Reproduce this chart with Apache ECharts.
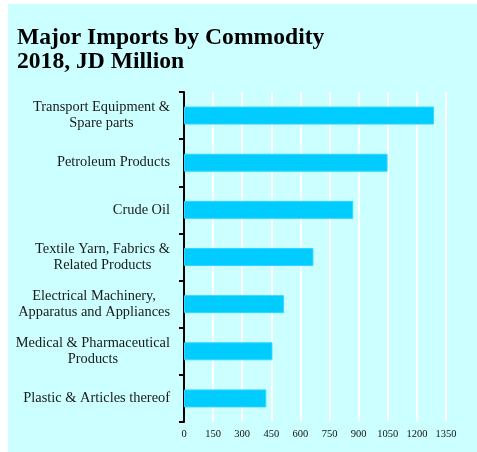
<!DOCTYPE html>
<html>
<head>
<meta charset="utf-8">
<script src="https://cdn.jsdelivr.net/npm/echarts@6/dist/echarts.min.js"></script>
<style>
  html, body { margin: 0; padding: 0; background: #ffffff; }
  #chart { position: absolute; left: 8px; top: 4px; width: 469px; height: 448px; background: #ccffff; }
</style>
</head>
<body>
<div id="chart"></div>
<script>
// Commodity groups, listed bottom-to-top as the category axis draws them
const categories = [
  'Plastic & Articles thereof',
  'Medical & Pharmaceutical\nProducts',
  'Electrical Machinery,\nApparatus and Appliances',
  'Textile Yarn, Fabrics &\nRelated Products',
  'Crude Oil',
  'Petroleum Products',
  'Transport Equipment &\nSpare parts'
];
// Import value, JD million
const imports = [424, 456, 515, 667, 872, 1049, 1288];
// Value axis ticks
const axisMin = 0;
const axisMax = 1350;
const axisStep = 150;

const chart = echarts.init(document.getElementById('chart'), null, { renderer: 'canvas' });

const serif = '"Liberation Serif", "Times New Roman", serif';

chart.setOption({
  backgroundColor: '#ccffff',
  animation: false,
  title: {
    text: 'Major Imports by Commodity\n2018, JD Million',
    left: 9,
    top: 22,
    padding: 0,
    textStyle: {
      fontFamily: serif,
      fontWeight: 'bold',
      fontSize: 23.6,
      lineHeight: 24,
      color: '#000000'
    }
  },
  grid: { left: 176, right: 31, top: 88, bottom: 30, containLabel: false },
  xAxis: {
    type: 'value',
    min: axisMin,
    max: axisMax,
    interval: axisStep,
    axisLine: { show: false },
    axisTick: { show: false },
    splitLine: { show: true, lineStyle: { color: '#ffffff', width: 2 } },
    axisLabel: {
      margin: 7,
      fontFamily: serif,
      fontSize: 10.5,
      color: '#111111',
      formatter: function (v) { return String(v); }
    }
  },
  yAxis: {
    type: 'category',
    data: categories,
    axisLine: { show: true, lineStyle: { color: '#000000', width: 2 } },
    axisTick: { show: true, inside: false, length: 5, lineStyle: { color: '#000000', width: 2 } },
    splitLine: { show: false },
    axisLabel: {
      margin: 14,
      formatter: function (v) {
        return v.split('\n').map(function (l) { return '{c|' + l + '}'; }).join('\n');
      },
      rich: {
        c: {
          align: 'center',
          fontFamily: serif,
          fontSize: 14.4,
          lineHeight: 16,
          color: '#1a1a1a'
        }
      }
    }
  },
  series: [{
    type: 'bar',
    data: imports,
    barWidth: 18,
    itemStyle: { color: '#00ccff', borderColor: '#33d6ff', borderWidth: 1 }
  }]
});
</script>
</body>
</html>
